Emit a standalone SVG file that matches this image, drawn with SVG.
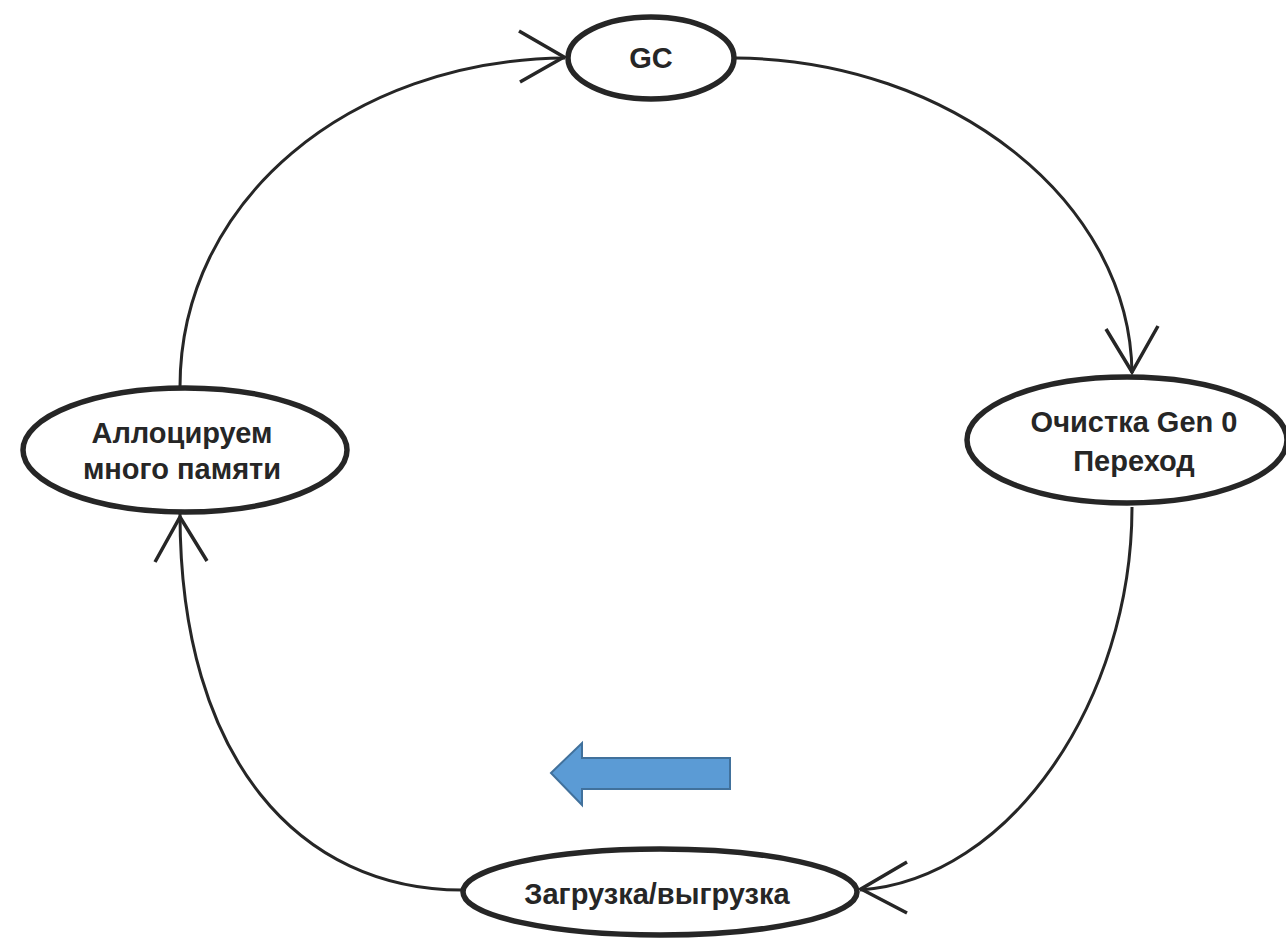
<svg xmlns="http://www.w3.org/2000/svg" width="1286" height="938" viewBox="0 0 1286 938">
<style>
.node{fill:#fff;stroke:#262626;stroke-width:5.5}
.lbl{font-family:"Liberation Sans",Arial,sans-serif;font-weight:bold;font-size:29px;fill:#262626;text-anchor:middle}
.edge{fill:none;stroke:#262626;stroke-width:3}
.head{fill:none;stroke:#262626;stroke-width:3.5;stroke-linecap:butt}
</style>
<rect width="1286" height="938" fill="#fff"/>
<g id="connectors">
<path class="edge" d="M180,387 C180,200 350,60 565,58"/>
<path class="head" d="M519,31 L564,57 L520,82"/>
<path class="edge" d="M736,58 C950,60 1130,200 1132,373"/>
<path class="head" d="M1106,329 L1132,372 L1158,326"/>
<path class="edge" d="M1132,507 C1132,700 1010,880 860,890"/>
<path class="head" d="M907,862 L861,889 L907,913"/>
<path class="edge" d="M462,890 C300,890 180,760 180,514"/>
<path class="head" d="M155,562 L180,517 L207,561"/>
</g>
<g id="gc">
<ellipse class="node" cx="651" cy="58" rx="83" ry="41"/>
<text class="lbl" x="651" y="68">GC</text>
</g>
<g id="clean">
<ellipse class="node" cx="1127" cy="440" rx="160" ry="63"/>
<text class="lbl" x="1134" y="432">Очистка Gen 0</text>
<text class="lbl" x="1134" y="471">Переход</text>
</g>
<g id="alloc">
<ellipse class="node" cx="185" cy="450" rx="162" ry="62"/>
<text class="lbl" x="182" y="443">Аллоцируем</text>
<text class="lbl" x="182" y="479">много памяти</text>
</g>
<g id="load">
<ellipse class="node" cx="660" cy="892" rx="197" ry="43"/>
<text class="lbl" x="657" y="904">Загрузка/выгрузка</text>
</g>
<g id="blue-arrow">
<polygon points="551,773 582,743 582,758 730,758 730,789 582,789 582,805" fill="#5b9bd5" stroke="#41719c" stroke-width="2"/>
</g>
</svg>
